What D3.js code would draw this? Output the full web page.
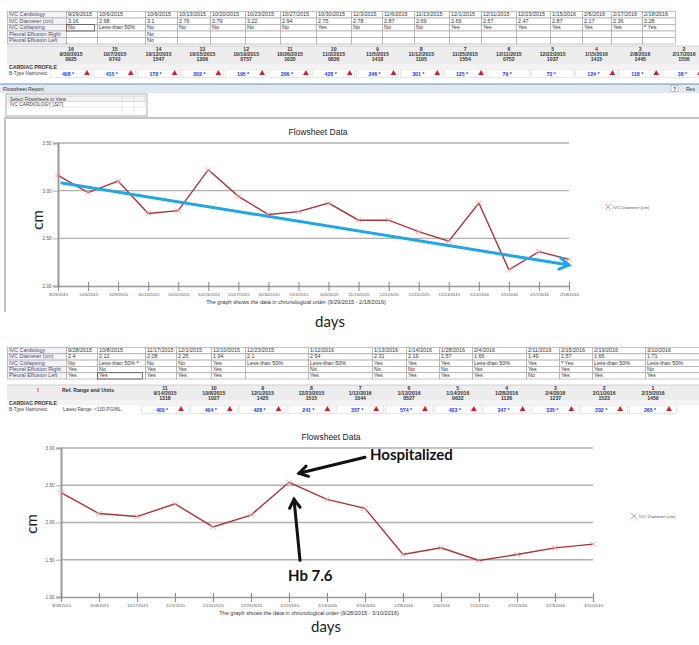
<!DOCTYPE html>
<html><head><meta charset="utf-8">
<script src="https://cdn.jsdelivr.net/npm/d3@7"></script>
<style>body{margin:0;background:#fff}svg{display:block}</style>
</head><body><svg id="c" width="699" height="645"></svg>
<script>
// ================= DATA: episode 1 =================
const rowLabels = ["IVC Cardiology","IVC Diameter (cm)","IVC Collapsing","Pleural Effusion Right","Pleural Effusion Left"];
const dates1 = ["9/29/2015","10/6/2015","10/9/2015","10/13/2015","10/20/2015","10/23/2015","10/27/2015","10/30/2015","11/3/2015","11/6/2015","11/13/2015","12/1/2015","12/11/2015","12/23/2015","1/15/2016","2/5/2016","2/17/2016","2/18/2016"];
const ivc1 = [3.16,2.98,3.1,2.76,2.79,3.22,2.94,2.75,2.78,2.87,2.69,2.69,2.57,2.47,2.87,2.17,2.36,2.28];
const collapsing1 = ["No","Less-than 50%","No","No","No","No","No","Yes","No","No","No","Yes","Yes","Yes","Yes","Yes","Yes","*Yes"];
const effRight1 = ["","","No","","","","","","","","","","","","","","",""];
const effLeft1 = ["","","No","","","","","","","","","","","","","","",""];
const bnpNum1 = ["16","15","14","13","12","11","10","9","8","7","6","5","4","3","2"];
const bnpDate1 = ["9/30/2015","10/7/2015","10/12/2015","10/15/2015","10/19/2015","10/26/2015","11/2/2015","11/5/2015","11/12/2015","11/25/2015","12/11/2015","12/22/2015","1/15/2016","2/8/2016","2/17/2016"];
const bnpTime1 = ["0925","0742","1547","1206","0757","1035","0826","1418","1105","1554","0752","1037","1415","1445","1556"];
const bnpVal1 = [408,415,178,202,195,206,428,246,301,125,79,73,124,118,38];
const bnpFlag1 = [1,1,1,1,1,1,1,1,1,1,0,0,1,1,1];
const trend1 = [3.08, 2.22];
const yTicks1 = [2.0, 2.5, 3.0, 3.5];

// ================= DATA: episode 2 =================
const dates2 = ["9/28/2015","10/8/2015","11/17/2015","12/1/2015","12/10/2015","12/23/2015","1/12/2016","1/13/2016","1/14/2016","1/28/2016","2/4/2016","2/11/2016","2/15/2016","2/19/2016","3/10/2016"];
const ivc2 = [2.4,2.12,2.08,2.25,1.94,2.1,2.54,2.31,2.19,1.57,1.66,1.49,1.57,1.66,1.71];
const collapsing2 = ["No","Less-than 50%*","No","No","Yes","Less-than 50%","Less-than 50%","Yes","Yes","Yes","Less-than 50%","Yes","*Yes","Less-than 50%","Less-than 50%"];
const effRight2 = ["Yes","No","Yes","Yes","Yes","","No","No","No","No","Yes","Yes","Yes","Yes","No"];
const effLeft2 = ["Yes","Yes","Yes","Yes","Yes","","Yes","Yes","Yes","Yes","Yes","No","Yes","Yes","Yes"];
const bnpNum2 = ["11","10","9","8","7","6","5","4","3","2","1"];
const bnpDate2 = ["9/14/2015","10/8/2015","12/1/2015","12/23/2015","1/12/2016","1/13/2016","1/14/2016","1/28/2016","2/4/2016","2/11/2016","2/15/2016"];
const bnpTime2 = ["1318","1027","1425","1515","1044","0527","0632","1126","1237","1523","1450"];
const bnpVal2 = [400,404,428,241,357,574,403,347,335,332,265];
const yTicks2 = [1.0, 1.5, 2.0, 2.5, 3.0];
const hospDate = "1/12/2016";
const hospValue = 2.54;
const noteHosp = "Hospitalized";
const noteHb = "Hb 7.6";

// ================= LAYOUT =================
const edges1 = [7,66,97,145,177,210,245,280,316,351,382,414,449,481,516,550,582,611,642,675];
const edges2 = [7,66,97,145,176,211,245,308,372,406,439,472,526,559,592,645,699];
const TF = "'Liberation Sans', Arial, sans-serif";
const AF = "Lato, 'Open Sans', sans-serif";
const svg = d3.select("#c");
svg.append("rect").attr("width",699).attr("height",645).attr("fill","#fff");

function cellText(g, s, x, y, fs){
  const t = g.append("text").attr("x",x).attr("y",y).attr("font-size",fs).attr("font-family",TF).attr("fill","#333");
  const parts = s.split(/(\*)/);
  parts.forEach(p=>{ if(p==="") return;
    const sp = t.append("tspan").text(p==="*" ? " * " : p);
    if(p==="*") sp.attr("fill","#3344ee").attr("font-weight","bold");
  });
}

function drawTable(top, rh, edges, rows, boxed){
  const g = svg.append("g");
  rows.forEach((row,ri)=>{
    row.forEach((v,ci)=>{
      if(ci>=edges.length-1) return;
      const x0=edges[ci], x1=edges[ci+1], y0=top+ri*rh;
      g.append("rect").attr("x",x0+0.5).attr("y",y0+0.5).attr("width",x1-x0).attr("height",rh)
        .attr("fill", ci===0 ? "#f4f4f8" : "#fff").attr("stroke","#a8a8a8").attr("stroke-width",0.7);
      cellText(g, v, x0+2, y0+rh-1.3, 5.4);
      if(ci===0) g.select("text:last-of-type").attr("fill","#4a4a6e");
    });
  });
  if(boxed){
    const [ri,ci]=boxed;
    g.append("rect").attr("x",edges[ci]+0.5).attr("y",top+ri*rh+0.5).attr("width",edges[ci+1]-edges[ci]-3).attr("height",rh)
      .attr("fill","none").attr("stroke","#555").attr("stroke-width",0.8);
  }
}

drawTable(11, 6.5, edges1, [
  [rowLabels[0], ...dates1],
  [rowLabels[1], ...ivc1.map(String)],
  [rowLabels[2], ...collapsing1],
  [rowLabels[3], ...effRight1],
  [rowLabels[4], ...effLeft1]
], [2,1]);

drawTable(347, 6.3, edges2, [
  [rowLabels[0], ...dates2],
  [rowLabels[1], ...ivc2.map(String)],
  [rowLabels[2], ...collapsing2],
  [rowLabels[3], ...effRight2],
  [rowLabels[4], ...effLeft2]
], [4,2]);

function drawBNP(o){
  const x = d3.scalePoint().domain(o.nums).range(o.xr);
  const g = svg.append("g").attr("font-family",TF);
  g.append("rect").attr("x",7).attr("y",o.top).attr("width",692).attr("height",o.hh).attr("fill","#ededed");
  g.append("line").attr("x1",7).attr("x2",699).attr("y1",o.top).attr("y2",o.top).attr("stroke","#d0d0d0");
  const step = x.step();
  o.nums.forEach((n,i)=>{
    const cx = x(n);
    g.append("text").attr("x",cx).attr("y",o.top+4.5).attr("text-anchor","middle").attr("font-size",5.2).attr("font-weight","bold").attr("fill","#333").text(n);
    g.append("text").attr("x",cx).attr("y",o.top+10).attr("text-anchor","middle").attr("font-size",5.2).attr("font-weight","bold").attr("fill","#333").text(o.dates[i]);
    g.append("text").attr("x",cx).attr("y",o.top+15).attr("text-anchor","middle").attr("font-size",5.2).attr("font-weight","bold").attr("fill","#333").text(o.times[i]);
    const vy = o.top+o.hh+6;
    g.append("rect").attr("x",cx-step/2+1).attr("y",vy-0.5).attr("width",step-2).attr("height",8)
      .attr("fill","#fff").attr("stroke","#d4d4d4").attr("stroke-width",0.6);
    g.append("text").attr("x",cx+3).attr("y",vy+5.5).attr("text-anchor","end").attr("font-size",5.2).attr("font-weight","bold").attr("fill","#2233ee").text(o.vals[i]+" *");
    if(o.flags[i]) g.append("path").attr("d",d3.symbol(d3.symbolTriangle,14)()).attr("transform",`translate(${cx+16},${vy+3.3})`).attr("fill","#d42020");
  });
  g.append("rect").attr("x",7).attr("y",o.top+o.hh).attr("width",692).attr("height",5.5).attr("fill","#f3f3f3");
  g.append("text").attr("x",9).attr("y",o.top+o.hh+4.5).attr("font-size",5.2).attr("font-weight","bold").attr("fill","#333").text("CARDIAC PROFILE");
  g.append("text").attr("x",9).attr("y",o.top+o.hh+11).attr("font-size",4.8).attr("fill","#444").text("B-Type Natriuretic");
  if(o.ref){
    g.append("text").attr("x",37).attr("y",o.top+7).attr("font-size",6).attr("font-weight","bold").attr("fill","#c00").text("!");
    g.append("text").attr("x",62).attr("y",o.top+7).attr("font-size",5.2).attr("font-weight","bold").attr("fill","#333").text("Ref. Range and Units");
    g.append("text").attr("x",63).attr("y",o.top+o.hh+11).attr("font-size",4.8).attr("fill","#444").text("Latest Range: <100 PG/ML");
  }
}
drawBNP({nums:bnpNum1,dates:bnpDate1,times:bnpTime1,vals:bnpVal1,flags:bnpFlag1,xr:[71,684],top:46,hh:18});
drawBNP({nums:bnpNum2,dates:bnpDate2,times:bnpTime2,vals:bnpVal2,flags:bnpVal2.map(()=>1),xr:[165,653],top:385,hh:15,ref:true});

// Flowsheet report header + selector
(function(){
  const g = svg.append("g").attr("font-family",TF);
  g.append("rect").attr("x",0).attr("y",84).attr("width",699).attr("height",9).attr("fill","#dfe8f3");
  g.append("line").attr("x1",0).attr("x2",699).attr("y1",84).attr("y2",84).attr("stroke","#6b94c8").attr("stroke-width",1.2);
  g.append("text").attr("x",3).attr("y",90.5).attr("font-size",5.2).attr("fill","#333").text("Flowsheet Report");
  g.append("rect").attr("x",671).attr("y",85.5).attr("width",7).attr("height",6).attr("fill","#fff").attr("stroke","#999").attr("stroke-width",0.6);
  g.append("text").attr("x",674.5).attr("y",90.5).attr("text-anchor","middle").attr("font-size",5).attr("font-weight","bold").attr("fill","#333").text("?");
  g.append("text").attr("x",686).attr("y",90.5).attr("font-size",5).attr("fill","#333").text("Res");
  g.append("rect").attr("x",6).attr("y",94).attr("width",141).attr("height",22).attr("fill","#fff").attr("stroke","#999").attr("stroke-width",0.8);
  g.append("rect").attr("x",8).attr("y",96).attr("width",137).attr("height",5.5).attr("fill","#f2f2f2").attr("stroke","#bbb").attr("stroke-width",0.5);
  g.append("rect").attr("x",8).attr("y",101.5).attr("width",137).attr("height",5.5).attr("fill","#fff").attr("stroke","#ccc").attr("stroke-width",0.5);
  [122,134].forEach(xx=>g.append("line").attr("x1",xx).attr("x2",xx).attr("y1",96).attr("y2",114).attr("stroke","#ccc").attr("stroke-width",0.5));
  g.append("text").attr("x",10).attr("y",100.5).attr("font-size",4.8).attr("fill","#333").text("Select Flowsheets to View");
  g.append("text").attr("x",10).attr("y",106).attr("font-size",4.8).attr("fill","#333").text("IVC CARDIOLOGY [327]");
  // panel frame
  g.append("path").attr("d","M5,312 L5,118 L699,118").attr("fill","none").attr("stroke","#c4c4c4").attr("stroke-width",2);
})();

function arrow(g,x1,y1,x2,y2,color,w,h){
  g.append("line").attr("x1",x1).attr("y1",y1).attr("x2",x2).attr("y2",y2).attr("stroke",color).attr("stroke-width",w).attr("stroke-linecap","round");
  const a = Math.atan2(y2-y1,x2-x1), p = d3.path();
  p.moveTo(x2-h*Math.cos(a-0.55), y2-h*Math.sin(a-0.55)); p.lineTo(x2,y2); p.lineTo(x2-h*Math.cos(a+0.55), y2-h*Math.sin(a+0.55));
  g.append("path").attr("d",p.toString()).attr("fill","none").attr("stroke",color).attr("stroke-width",w).attr("stroke-linejoin","miter").attr("stroke-linecap","round");
}

function drawChart(o){
  const x = d3.scalePoint().domain(o.dates).range(o.xr);
  const y = d3.scaleLinear().domain(o.yd).range(o.yr);
  const g = svg.append("g");
  g.append("text").attr("x",o.titleX).attr("y",o.titleY).attr("text-anchor","middle").attr("font-family",TF).attr("font-size",8.5).attr("fill","#222").text("Flowsheet Data");
  // gridlines
  g.selectAll(null).data(o.ticks.slice(1)).join("line")
    .attr("x1",o.xr[0]).attr("x2",o.xr[1]).attr("y1",d=>y(d)).attr("y2",d=>y(d))
    .attr("stroke","#b0b0b0").attr("stroke-width",1.3);
  // y axis
  const ya = g.append("g").attr("transform",`translate(${o.xr[0]},0)`)
    .call(d3.axisLeft(y).tickValues(o.ticks).tickFormat(d3.format(".2f")).tickSize(5).tickPadding(1.5));
  ya.select(".domain").attr("stroke","#9a9a9a").attr("stroke-width",2);
  ya.selectAll(".tick line").attr("stroke","#aaa");
  ya.selectAll(".tick text").attr("font-size",4.6).attr("font-family",TF).attr("fill","#555");
  // x axis
  const xa = g.append("g").attr("transform",`translate(0,${o.yr[0]})`)
    .call(d3.axisBottom(x).tickSize(5).tickPadding(2).tickSizeOuter(0));
  xa.select(".domain").attr("stroke","#9a9a9a").attr("stroke-width",1.5);
  xa.selectAll(".tick line").attr("y1",-4).attr("y2",5).attr("stroke","#888");
  xa.selectAll(".tick text").attr("font-size",4.3).attr("font-family",TF).attr("fill","#555");
  // series line
  const pts = o.dates.map((d,i)=>[x(d), y(o.vals[i])]);
  g.append("path").attr("d",d3.line()(pts)).attr("fill","none").attr("stroke","#a8353a").attr("stroke-width",1.4);
  pts.forEach(([px,py])=>{
    g.append("path").attr("d",`M${px-3},${py-2.5}L${px+3},${py+2.5}M${px-3},${py+2.5}L${px+3},${py-2.5}`)
      .attr("stroke","#e8a2a2").attr("stroke-width",0.8);
  });
  // legend
  const [lx,ly]=o.leg;
  g.append("path").attr("d",`M${lx-3},${ly-2.8}L${lx+3},${ly+2.8}M${lx-3},${ly+2.8}L${lx+3},${ly-2.8}`).attr("stroke","#e38f8f").attr("stroke-width",0.9);
  g.append("text").attr("x",lx+5).attr("y",ly+1.6).attr("font-size",4.4).attr("font-family",TF).attr("fill","#555").text("IVC Diameter (cm)");
  // caption
  g.append("text").attr("x",o.capX).attr("y",o.capY).attr("text-anchor","middle").attr("font-family",TF).attr("font-size",5.6).attr("fill","#333")
    .text(`The graph shows the data in chronological order (${o.dates[0]} - ${o.dates[o.dates.length-1]})`);
  // axis titles
  g.append("text").attr("transform",`translate(${o.cm[0]},${o.cm[1]}) rotate(-90)`).attr("text-anchor","middle").attr("font-family",AF).attr("font-size",15).attr("fill","#222").text("cm");
  g.append("text").attr("x",o.days[0]).attr("y",o.days[1]).attr("text-anchor","middle").attr("font-family",AF).attr("font-size",15).attr("fill","#222").text("days");
  return {x,y,g};
}

const c1 = drawChart({dates:dates1,vals:ivc1,xr:[58,569],yd:[2,3.5],yr:[286,143],ticks:yTicks1,
  titleX:318,titleY:135,leg:[608,207],capX:296,capY:304,cm:[43,220],days:[330,327]});
arrow(c1.g, c1.x(dates1[0])+4, c1.y(trend1[0]), c1.x(dates1[dates1.length-1]), c1.y(trend1[1]), "#22a7e4", 3, 11);

const c2 = drawChart({dates:dates2,vals:ivc2,xr:[61,593],yd:[1,3],yr:[597,448],ticks:yTicks2,
  titleX:331,titleY:440,leg:[634,516],capX:309,capY:615,cm:[37,524],days:[326,632]});
const hx = c2.x(hospDate), hy = c2.y(hospValue);
arrow(c2.g, hx+76, hy-25, hx+10, hy-9, "#111", 3, 10);
arrow(c2.g, hx+11, hy+78, hx+5, hy+17, "#111", 3, 10);
c2.g.append("text").attr("x",hx+81).attr("y",hy-22).attr("font-family",AF).attr("font-weight","bold").attr("font-size",15).attr("fill","#111").text(noteHosp);
c2.g.append("text").attr("x",hx-1).attr("y",hy+99).attr("font-family",AF).attr("font-weight","bold").attr("font-size",15).attr("fill","#111").text(noteHb);
</script></body></html>
